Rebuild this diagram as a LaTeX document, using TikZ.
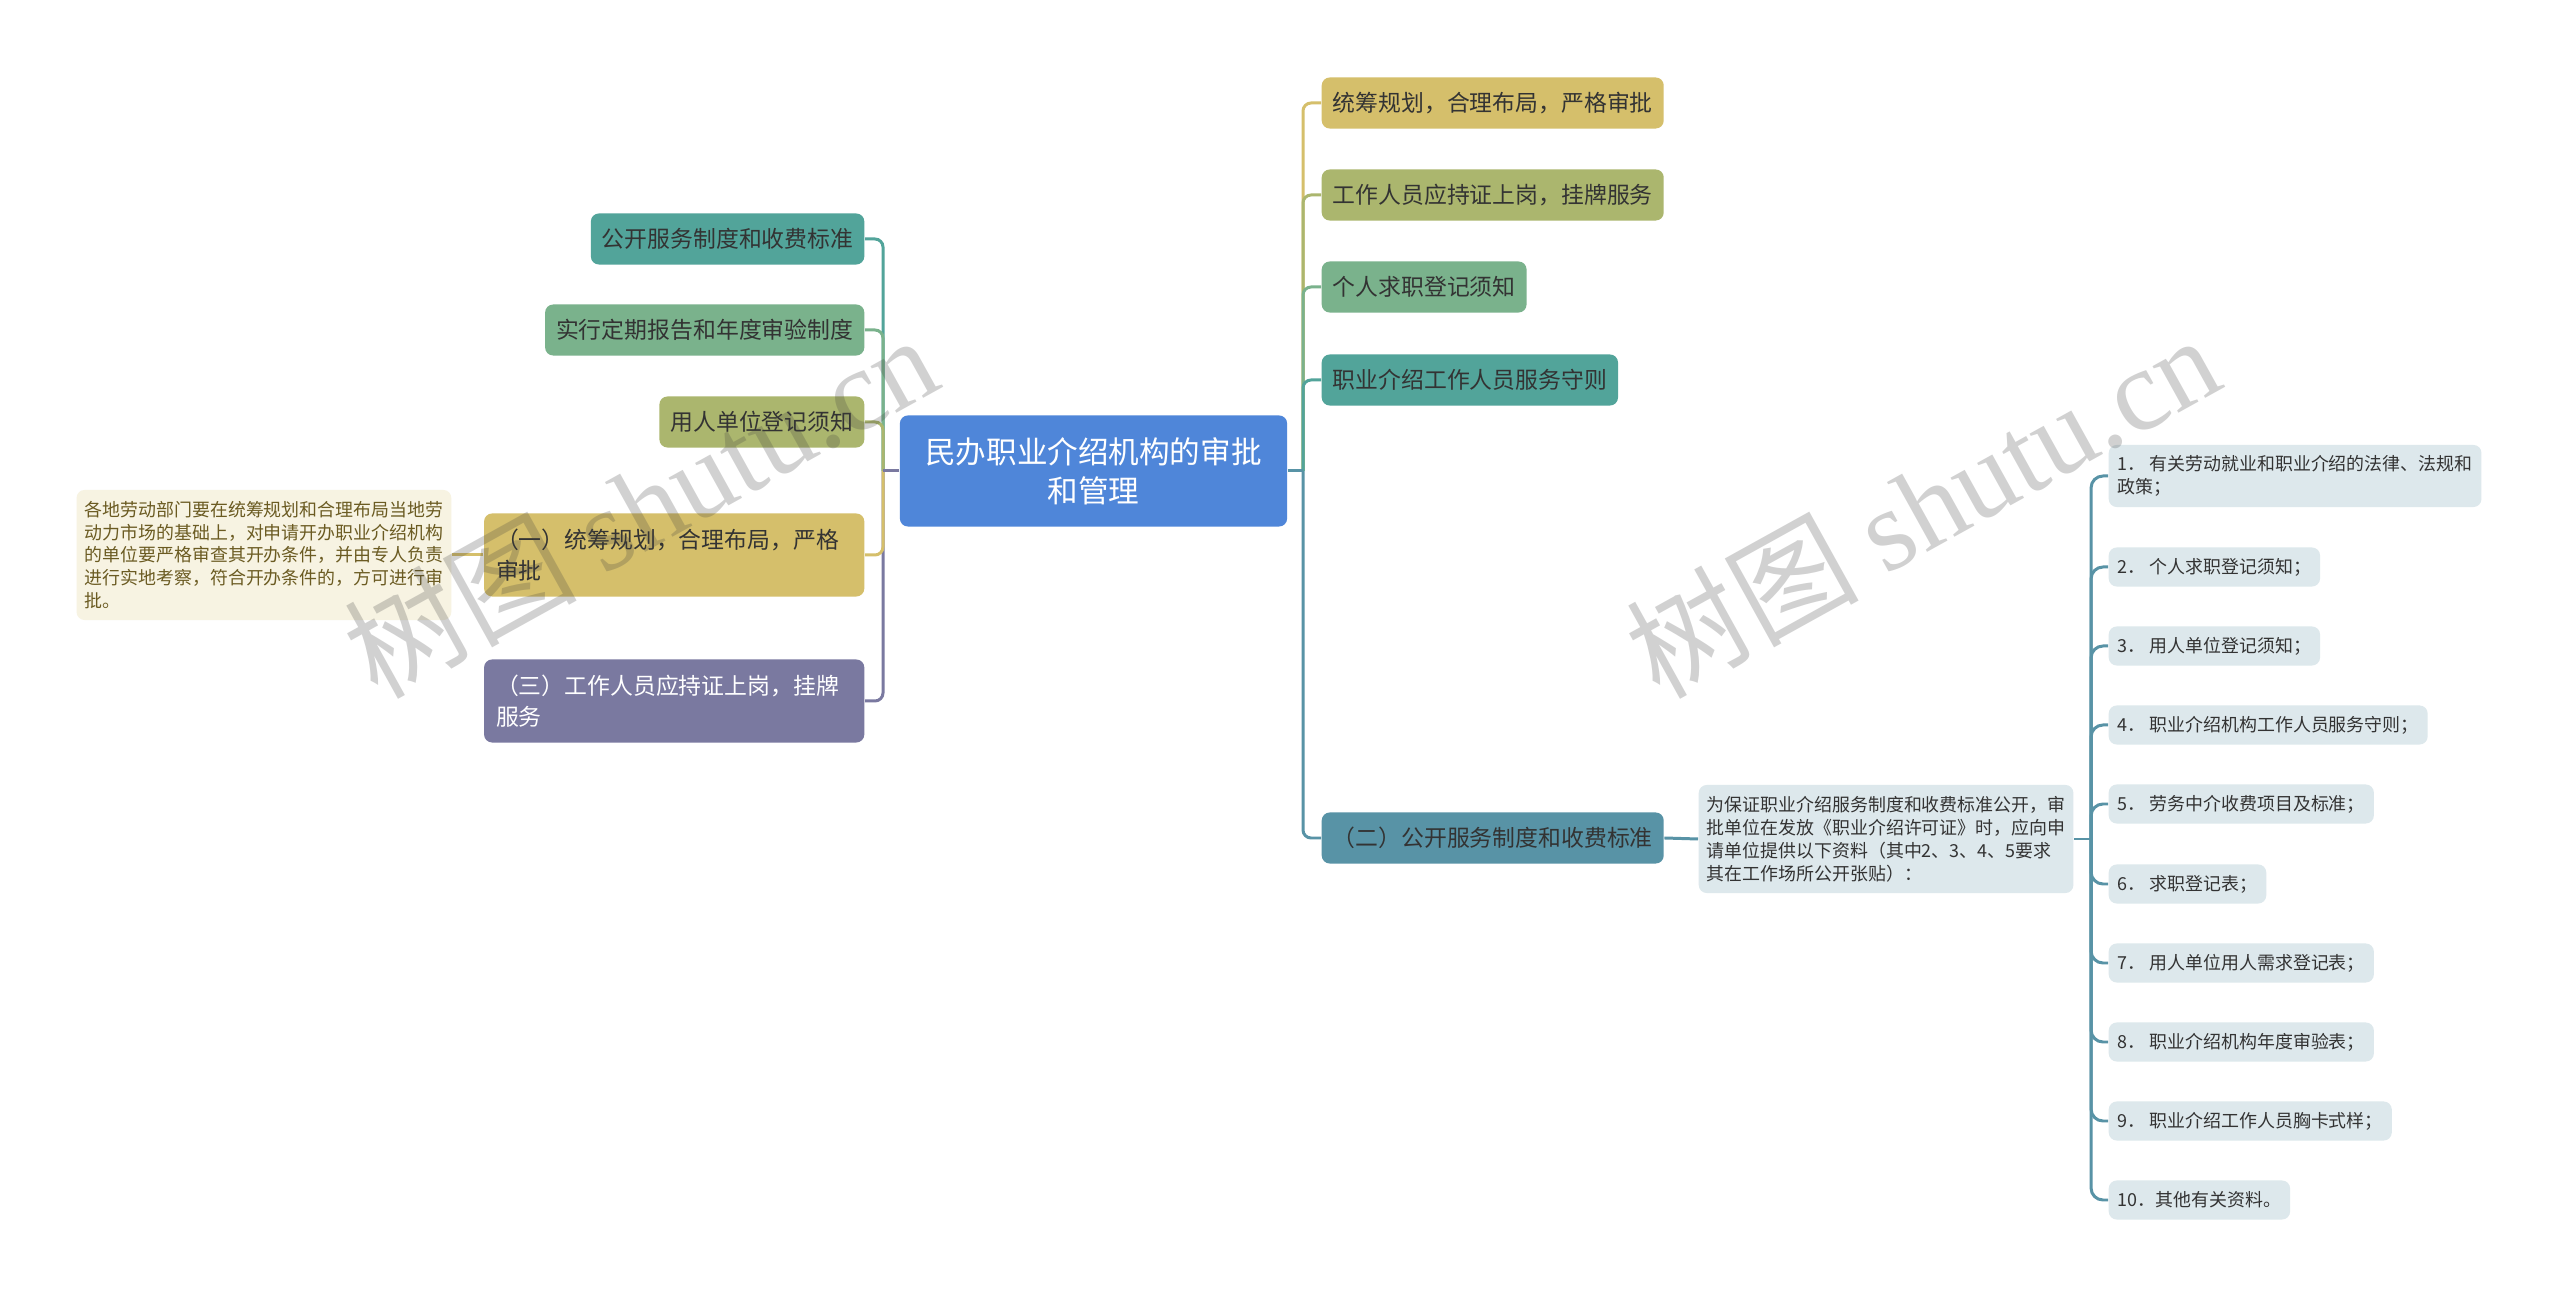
\documentclass[tikz,border=0pt]{standalone}
\usepackage{fontspec}
\setmainfont{Noto Sans CJK SC}
\newfontfamily\wmserif{Liberation Serif}
\definecolor{cGold}{HTML}{D5BF6B}
\definecolor{cOlive}{HTML}{ABB66E}
\definecolor{cGreen}{HTML}{7AB28C}
\definecolor{cTeal}{HTML}{52A49A}
\definecolor{cSteel}{HTML}{5893A6}
\definecolor{cPurple}{HTML}{7A79A0}
\definecolor{cBlue}{HTML}{4F86D9}
\definecolor{cCream}{HTML}{F7F3E2}
\definecolor{cPale}{HTML}{DDE8EC}
\definecolor{cInk}{HTML}{333333}
\definecolor{cBrown}{HTML}{6B5B22}
\begin{document}
\begin{tikzpicture}[x=0.01cm,y=-0.01cm,
	topic/.style={rounded corners=0.08cm,inner sep=0pt,inner xsep=0.11cm,minimum height=0.51cm,text=cInk,font=\fontsize{6.5}{8.8}\selectfont},
	topicwide/.style={topic,align=left,text width=3.56cm,inner xsep=0.12cm,minimum height=0.83cm},
	note/.style={rounded corners=0.08cm,inner sep=0pt,inner xsep=0.08cm,align=left,font=\fontsize{5.1}{6.5}\selectfont},
	item/.style={note,fill=cPale,text=cInk,anchor=west,inner xsep=0.09cm,minimum height=0.39cm},
	link/.style={line width=0.85pt,rounded corners=0.08cm},
	wm/.style={text=black!75,opacity=0.24,font=\fontsize{33}{33}\selectfont,rotate=29}]
	\fill[white](0,0)rectangle(2560,1298);
	\useasboundingbox(0,0)rectangle(2560,1298);
	\node[fill=cBlue,rounded corners=0.08cm,minimum width=3.87cm,minimum height=1.11cm,text=white,align=center,font=\fontsize{8.7}{11.1}\selectfont](root)at(1093.5,471){民办职业介绍机构的审批\\和管理};
	\node[topic,fill=cTeal,anchor=east](l1)at(865,239){公开服务制度和收费标准};
	\node[topic,fill=cGreen,anchor=east](l2)at(865,330){实行定期报告和年度审验制度};
	\node[topic,fill=cOlive,anchor=east](l3)at(865,422){用人单位登记须知};
	\node[topicwide,fill=cGold,anchor=east](l4)at(865,555){（一）统筹规划，合理布局，严格\\审批};
	\node[topicwide,fill=cPurple,text=white,anchor=east](l5)at(865,701){（三）工作人员应持证上岗，挂牌\\服务};
	\node[note,fill=cCream,text=cBrown,anchor=east,minimum height=1.3cm](l4n)at(452,555){各地劳动部门要在统筹规划和合理布局当地劳\\动力市场的基础上，对申请开办职业介绍机构\\的单位要严格审查其开办条件，并由专人负责\\进行实地考察，符合开办条件的，方可进行审\\批。};
	\node[topic,fill=cGold,anchor=west](r1)at(1321,103){统筹规划，合理布局，严格审批};
	\node[topic,fill=cOlive,anchor=west](r2)at(1321,195){工作人员应持证上岗，挂牌服务};
	\node[topic,fill=cGreen,anchor=west](r3)at(1321,287){个人求职登记须知};
	\node[topic,fill=cTeal,anchor=west](r4)at(1321,380){职业介绍工作人员服务守则};
	\node[topic,fill=cSteel,anchor=west](r5)at(1321,838){（二）公开服务制度和收费标准};
	\node[note,fill=cPale,text=cInk,anchor=west,minimum height=1.08cm](r5n)at(1698,839){为保证职业介绍服务制度和收费标准公开，审\\批单位在发放《职业介绍许可证》时，应向申\\请单位提供以下资料（其中2、3、4、5要求\\其在工作场所公开张贴）：};
	\node[item,minimum height=0.62cm](s1)at(2108,476){1． 有关劳动就业和职业介绍的法律、法规和\\政策；};
	\node[item](s2)at(2108,567){2． 个人求职登记须知；};
	\node[item](s3)at(2108,646){3． 用人单位登记须知；};
	\node[item](s4)at(2108,725){4． 职业介绍机构工作人员服务守则；};
	\node[item](s5)at(2108,804){5． 劳务中介收费项目及标准；};
	\node[item](s6)at(2108,884){6． 求职登记表；};
	\node[item](s7)at(2108,963){7． 用人单位用人需求登记表；};
	\node[item](s8)at(2108,1042){8． 职业介绍机构年度审验表；};
	\node[item](s9)at(2108,1121){9． 职业介绍工作人员胸卡式样；};
	\node[item](s10)at(2108,1200){10．其他有关资料。};
	\coordinate(lj)at(883,471);
	\coordinate(rj)at(1303,471);
	\coordinate(sj)at(2091,839);
	\draw[link,cTeal](lj)|-(l1.east);
	\draw[link,cGreen](lj)|-(l2.east);
	\draw[link,cOlive](lj)|-(l3.east);
	\draw[link,cPurple](lj)|-(l5.east);
	\draw[link,cGold](lj)|-(l4.east);
	\draw[link,cPurple](root.west)--(lj);
	\draw[link,cGold](l4.west)--(l4n.east);
	\draw[link,cGold](rj)|-(r1.west);
	\draw[link,cOlive](rj)|-(r2.west);
	\draw[link,cGreen](rj)|-(r3.west);
	\draw[link,cTeal](rj)|-(r4.west);
	\draw[link,cSteel](rj)|-(r5.west);
	\draw[link,cSteel](root.east)--(rj);
	\draw[link,cSteel](r5.east)--(r5n.west);
	\draw[link,cSteel](r5n.east)--(sj);
	\foreach \i in {1,...,10}
		\draw[link,cSteel,rounded corners=0.12cm](sj)|-(s\i.west);
	\node[wm](wm1)at(640,505){树图 {\wmserif shutu.cn}};
	\node[wm](wm2)at(1922,505){树图 {\wmserif shutu.cn}};
\end{tikzpicture}
\end{document}
